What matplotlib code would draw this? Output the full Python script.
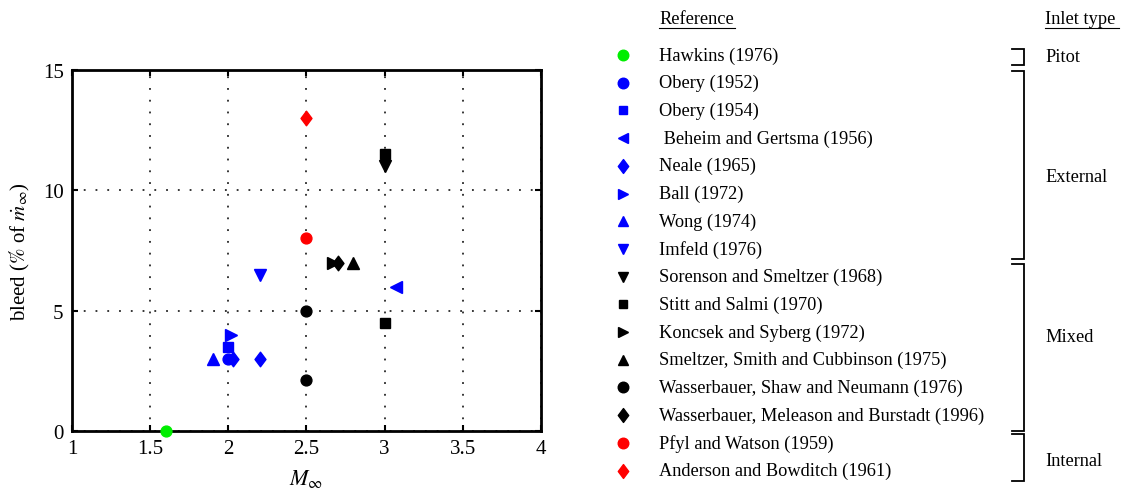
import matplotlib
matplotlib.use("Agg")
import matplotlib.pyplot as plt
from matplotlib.path import Path

plt.rcParams['font.family'] = ['Liberation Serif', 'DejaVu Serif']
plt.rcParams['mathtext.fontset'] = 'stix'

# Data: (reference, colour, marker, Mach numbers, bleed %)
references = [
    "Hawkins (1976)",
    "Obery (1952)",
    "Obery (1954)",
    " Beheim and Gertsma (1956)",
    "Neale (1965)",
    "Ball (1972)",
    "Wong (1974)",
    "Imfeld (1976)",
    "Sorenson and Smeltzer (1968)",
    "Stitt and Salmi (1970)",
    "Koncsek and Syberg (1972)",
    "Smeltzer, Smith and Cubbinson (1975)",
    "Wasserbauer, Shaw and Neumann (1976)",
    "Wasserbauer, Meleason and Burstadt (1996)",
    "Pfyl and Watson (1959)",
    "Anderson and Bowditch (1961)",
]
colors = ["#00ee00", "blue", "blue", "blue", "blue", "blue", "blue", "blue",
          "black", "black", "black", "black", "black", "black", "red", "red"]
markers = ["o", "o", "s", "<", "dia", ">", "^", "v",
           "v", "s", ">", "^", "o", "dia", "o", "dia"]
mach = [
    [1.6],
    [2.0],
    [2.0],
    [3.07],
    [2.03, 2.2],
    [2.02],
    [1.9],
    [2.2],
    [3.0],
    [3.0, 3.0],
    [2.67],
    [2.8],
    [2.5, 2.5],
    [2.7],
    [2.5],
    [2.5],
]
bleed = [
    [0.0],
    [3.0],
    [3.5],
    [6.0],
    [3.0, 3.0],
    [4.0],
    [3.0],
    [6.5],
    [11.0],
    [11.5, 4.5],
    [7.0],
    [7.0],
    [5.0, 2.1],
    [7.0],
    [8.0],
    [13.0],
]
inlet_types = ["Pitot", "External", "Mixed", "Internal"]

x_ticks = [1, 1.5, 2, 2.5, 3, 3.5, 4]
y_ticks = [0, 5, 10, 15]

# A diamond that is a little taller than wide
DIAMOND = Path([(0, 1), (0.75, 0), (0, -1), (-0.75, 0), (0, 1)],
               [Path.MOVETO, Path.LINETO, Path.LINETO, Path.LINETO,
                Path.CLOSEPOLY])


def marker_shape(m):
    return DIAMOND if m == "dia" else m


# marker sizes (points) per marker shape
MS = {"o": 7.8, "s": 7, "dia": 10.5, "<": 8.3, ">": 8.3, "^": 8.3, "v": 8.3}
MS_LEG = {"o": 7.6, "s": 5.8, "dia": 10, "<": 7.5, ">": 7.5, "^": 7.5,
          "v": 7.5}

W, H = 1127, 489
fig = plt.figure(figsize=(W / 100, H / 100), dpi=100)

# Main scatter axes
ax = fig.add_axes([72 / W, 1 - 432 / H, (541 - 72) / W, (432 - 71) / H])
ax.set_zorder(2)
for ref, c, m, xs, ys in zip(references, colors, markers, mach, bleed):
    ax.plot(xs, ys, linestyle="none", marker=marker_shape(m), color=c,
            markersize=MS[m], clip_on=False, zorder=3)

ax.set_xlim(1, 4)
ax.set_ylim(0, 15)
ax.set_xticks(x_ticks)
ax.set_xticklabels([f"{t:g}" for t in x_ticks])
ax.set_yticks(y_ticks)
ax.grid(True, color="black", linestyle=(0, (1.2, 6.5)), linewidth=1.1)
ax.tick_params(direction="in", top=True, right=True, length=4, width=1.5,
               labelsize=15, pad=6)
for s in ax.spines.values():
    s.set_linewidth(2.0)
ax.set_xlabel(r"$M_\infty$", fontsize=16, labelpad=6)
ax.set_ylabel(r"bleed ($\%$ of $\dot{m}_\infty$)", fontsize=15, labelpad=8)

# Legend panel drawn in pixel coordinates
lg = fig.add_axes([0, 0, 1, 1])
lg.set_xlim(0, W)
lg.set_ylim(H, 0)
lg.axis("off")

row_y0, row_dy = 56, 27.7
mark_x, text_x = 623, 659
fs = 13.2
lg.text(text_x, 20, "Reference", fontsize=fs, va="center", ha="left")
lg.plot([text_x, text_x + 76], [29, 29], color="black", lw=0.8)
lg.text(1045, 20, "Inlet type", fontsize=fs, va="center", ha="left")
lg.plot([1045, 1119], [29, 29], color="black", lw=0.8)

for i, (ref, c, m) in enumerate(zip(references, colors, markers)):
    y = row_y0 + i * row_dy
    lg.plot([mark_x], [y], linestyle="none", marker=marker_shape(m), color=c,
            markersize=MS_LEG[m])
    lg.text(text_x, y, ref, fontsize=fs, va="center", ha="left")

# Brackets grouping references by inlet type
bracket_spans = [(50, 66), (72, 260), (265, 432), (435, 482)]
label_y = [58, 178, 338, 461]
bx, btick = 1024, 1012
for name, (ytop, ybot), ly in zip(inlet_types, bracket_spans, label_y):
    lg.plot([btick, bx, bx, btick], [ytop, ytop, ybot, ybot],
            color="black", lw=1.3, solid_joinstyle="miter")
    lg.text(1045, ly, name, fontsize=fs, va="center", ha="left")

fig.savefig("out.png", dpi=100)
